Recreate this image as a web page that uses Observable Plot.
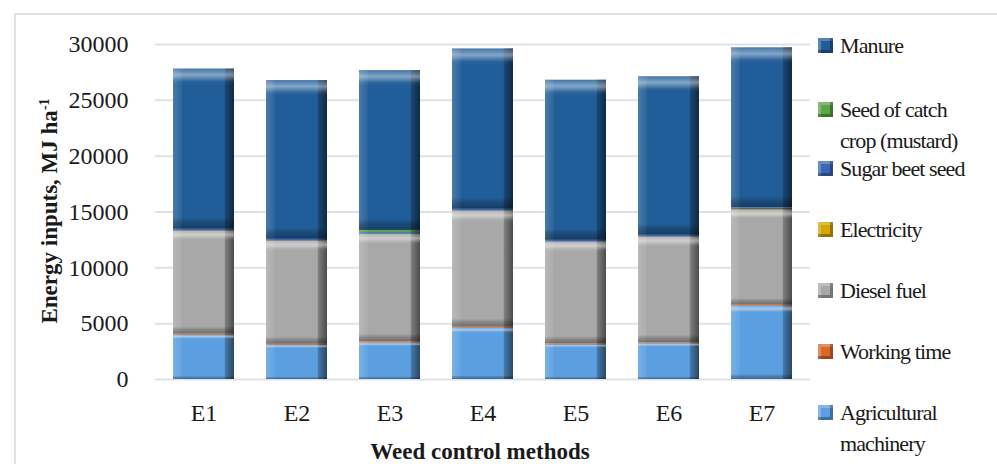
<!DOCTYPE html>
<html>
<head>
<meta charset="utf-8">
<script src="https://cdn.jsdelivr.net/npm/d3@7"></script>
<script src="https://cdn.jsdelivr.net/npm/@observablehq/plot@0.6"></script>
<style>
  html, body { margin: 0; padding: 0; background: #fff; }
  #wrap { position: relative; width: 997px; height: 464px; overflow: hidden; background: #fff;
          font-family: "Liberation Serif", "DejaVu Serif", serif; color: #1a1a1a; }
  #frame { position: absolute; left: 14px; top: 13px; width: 990px; height: 470px;
           border: 2px solid #dde1e8; box-sizing: border-box; }
  #chart { position: absolute; left: 0; top: 0; }
  .ylab { position: absolute; left: 50px; top: 211px; transform: translate(-50%, -50%) rotate(-90deg);
          white-space: nowrap; font-weight: bold; font-size: 23px; }
  .ylab sup { font-size: 14px; }
  .xlab { position: absolute; left: 480px; top: 452px; transform: translate(-50%, -50%);
          white-space: nowrap; font-weight: bold; font-size: 23px; }
  .leg { position: absolute; left: 818px; font-size: 22px; letter-spacing: -0.9px; line-height: 31px; white-space: nowrap; }
  .leg .sw { position: absolute; left: 0; top: 8px; width: 15px; height: 15px; }
  .leg .tx { position: absolute; left: 22px; top: 0; }
</style>
</head>
<body>
<div id="wrap">
  <div id="frame"></div>
  <div id="chart"></div>
  <div class="ylab">Energy inputs, MJ ha<sup>-1</sup></div>
  <div class="xlab">Weed control methods</div>
  <div id="legend"></div>
</div>
<script>
// ---- data ----
const methods = ["E1", "E2", "E3", "E4", "E5", "E6", "E7"];
const yTicks = [0, 5000, 10000, 15000, 20000, 25000, 30000];

const agriculturalMachinery = [3950, 3050, 3250, 4580, 3100, 3200, 6550];
const workingTime           = [100, 100, 130, 100, 100, 90, 100];
const dieselFuel            = [9230, 9230, 9600, 10390, 9090, 9450, 8480];
const electricity           = [20, 20, 20, 20, 20, 20, 80];
const sugarBeetSeed         = [150, 150, 150, 150, 150, 150, 150];
const seedOfCatchCrop       = [0, 0, 200, 0, 0, 0, 0];
const manure                = [14350, 14220, 14310, 14360, 14340, 14200, 14340];

// stacking order bottom -> top
const seriesNames = ["Agricultural machinery", "Working time", "Diesel fuel", "Electricity",
                     "Sugar beet seed", "Seed of catch crop (mustard)", "Manure"];
const seriesValues = [agriculturalMachinery, workingTime, dieselFuel, electricity,
                      sugarBeetSeed, seedOfCatchCrop, manure];
const seriesColors = ["#5b9fe0", "#d8692a", "#a8a8a8", "#d2a800", "#3a66b2", "#5aa544", "#215d98"];

const rows = [];
seriesNames.forEach((s, i) => {
  methods.forEach((m, j) => rows.push({method: m, series: s, value: seriesValues[i][j]}));
});

const barOpts = {x: "method", y: "value", z: "series", order: seriesNames};

const plot = Plot.plot({
  width: 815,
  height: 464,
  marginLeft: 155,
  marginRight: 5,
  marginTop: 44,
  marginBottom: 85,
  style: {fontFamily: "'Liberation Serif', serif", fontSize: "24px", color: "#1a1a1a", background: "transparent", overflow: "visible"},
  x: {domain: methods, paddingInner: 0.34, paddingOuter: 0.17, label: null},
  y: {domain: [0, 30000], label: null},
  color: {domain: seriesNames, range: seriesColors},
  marks: [
    Plot.ruleY(yTicks, {stroke: "#dde2ea", strokeWidth: 2}),
    Plot.axisY({ticks: yTicks, tickSize: 0, tickPadding: 27, tickFormat: d => String(d), label: null, fontSize: 24}),
    Plot.axisX({tickSize: 0, tickPadding: 24, label: null, fontSize: 24}),
    Plot.barY(rows, Plot.stackY({...barOpts, fill: "series"})),
    Plot.barY(rows, Plot.stackY({...barOpts, fill: "url(#hshade)"})),
    Plot.barY(rows, Plot.stackY({...barOpts, fill: "url(#vshade)"}))
  ]
});

// gradient definitions used for the bevelled look
const defs = `
<defs>
  <linearGradient id="hshade" x1="0" y1="0" x2="1" y2="0">
    <stop offset="0" stop-color="#ffffff" stop-opacity="0.18"/>
    <stop offset="0.14" stop-color="#ffffff" stop-opacity="0.05"/>
    <stop offset="0.16" stop-color="#000000" stop-opacity="0"/>
    <stop offset="0.84" stop-color="#000000" stop-opacity="0"/>
    <stop offset="0.86" stop-color="#000000" stop-opacity="0.25"/>
    <stop offset="1" stop-color="#000000" stop-opacity="0.55"/>
  </linearGradient>
  <linearGradient id="vshade" x1="0" y1="0" x2="0" y2="1">
    <stop offset="0" stop-color="#ffffff" stop-opacity="0.15"/>
    <stop offset="0.04" stop-color="#ffffff" stop-opacity="0.45"/>
    <stop offset="0.08" stop-color="#ffffff" stop-opacity="0.05"/>
    <stop offset="0.1" stop-color="#ffffff" stop-opacity="0"/>
    <stop offset="0.93" stop-color="#000000" stop-opacity="0"/>
    <stop offset="0.96" stop-color="#000000" stop-opacity="0.2"/>
    <stop offset="1" stop-color="#000000" stop-opacity="0.35"/>
  </linearGradient>
</defs>`;
plot.insertAdjacentHTML("afterbegin", defs);
document.getElementById("chart").appendChild(plot);

// legend (top to bottom, as in the reference)
const legendItems = [
  {name: "Manure", lines: ["Manure"], top: 30},
  {name: "Seed of catch crop (mustard)", lines: ["Seed of catch", "crop (mustard)"], top: 94},
  {name: "Sugar beet seed", lines: ["Sugar beet seed"], top: 153},
  {name: "Electricity", lines: ["Electricity"], top: 214},
  {name: "Diesel fuel", lines: ["Diesel fuel"], top: 275},
  {name: "Working time", lines: ["Working time"], top: 336},
  {name: "Agricultural machinery", lines: ["Agricultural", "machinery"], top: 397}
];
const leg = document.getElementById("legend");
legendItems.forEach(it => {
  const c = seriesColors[seriesNames.indexOf(it.name)];
  const d = document.createElement("div");
  d.className = "leg";
  d.style.top = it.top + "px";
  d.innerHTML = `<div class="sw" style="background:${c};box-shadow: inset -3px -3px 0 rgba(0,0,0,0.3), inset 3px 3px 0 rgba(255,255,255,0.25)"></div>` +
    `<div class="tx">${it.lines.join("<br>")}</div>`;
  leg.appendChild(d);
});
</script>
</body>
</html>
